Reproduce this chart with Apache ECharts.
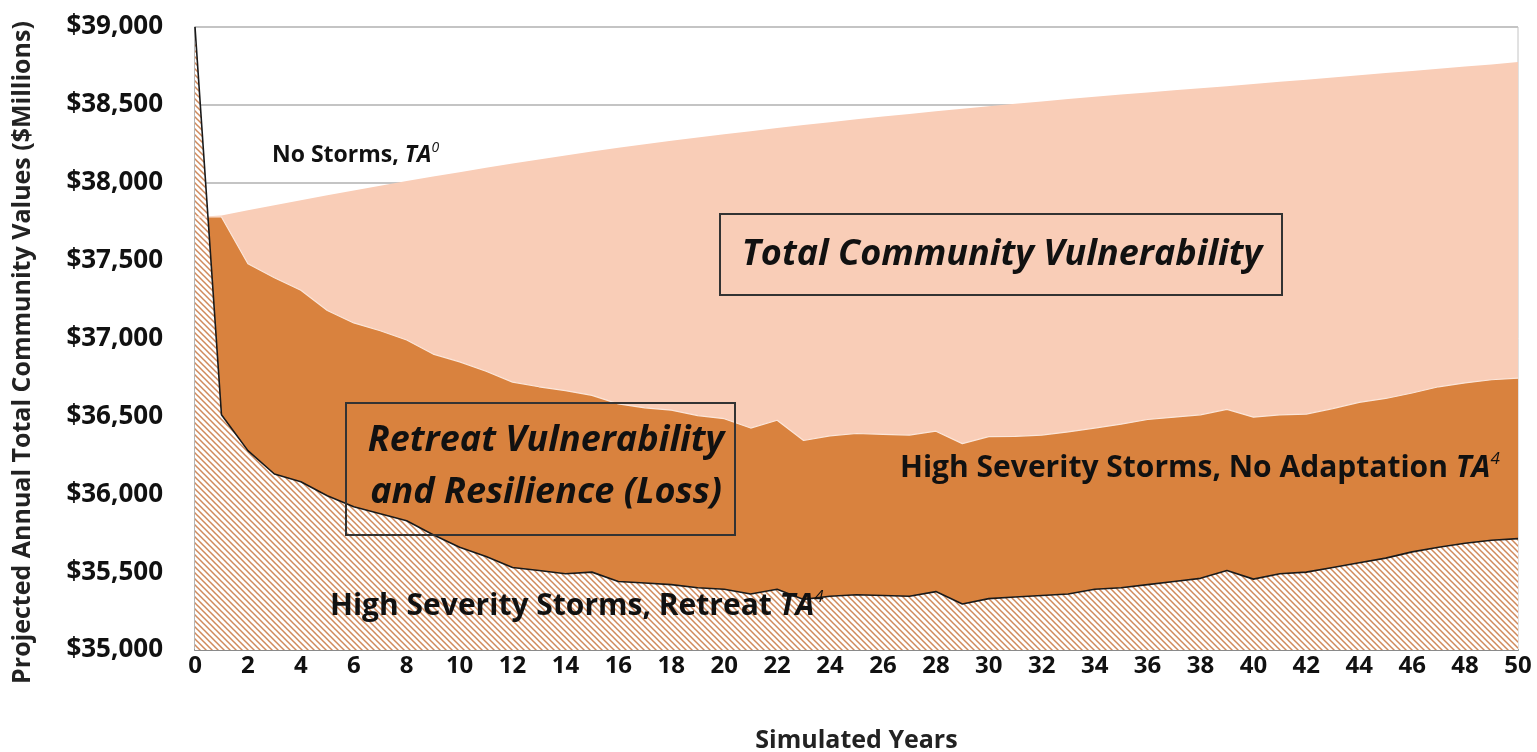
<!DOCTYPE html>
<html>
<head>
<meta charset="utf-8">
<script src="https://cdn.jsdelivr.net/npm/echarts@6/dist/echarts.min.js"></script>
<style>
  html, body { margin: 0; padding: 0; background: #fff; }
  #main { width: 1537px; height: 752px; }
</style>
</head>
<body>
<div id="main"></div>
<script>
// simulated years 0..50
var years = [];
for (var i = 0; i <= 50; i++) years.push(i);

// No Storms, TA0
var noStorms = [
  37780, 37790, 37823, 37856, 37888, 37920, 37951, 37981, 38011, 38040,
  38068, 38096, 38123, 38149, 38175, 38200, 38224, 38247, 38269, 38290,
  38311, 38331, 38351, 38370, 38389, 38407, 38425, 38442, 38459, 38475,
  38491, 38507, 38522, 38537, 38552, 38566, 38580, 38594, 38607, 38620,
  38634, 38648, 38662, 38676, 38690, 38704, 38718, 38732, 38746, 38760,
  38775
];
// High Severity Storms, No Adaptation TA4
var noAdaptation = [
  37780, 37780, 37480, 37390, 37310, 37180, 37100, 37050, 36990, 36900,
  36850, 36790, 36720, 36690, 36665, 36635, 36580, 36555, 36540, 36505,
  36485, 36425, 36475, 36345, 36375, 36390, 36385, 36380, 36405, 36325,
  36370, 36372, 36380, 36400, 36425, 36450, 36480, 36495, 36510, 36545,
  36495, 36510, 36515, 36550, 36590, 36615, 36650, 36690, 36715, 36735,
  36745
];
// High Severity Storms, Retreat TA4
var retreat = [
  39000, 36510, 36280, 36130, 36080, 35990, 35920, 35875, 35830, 35740,
  35660, 35600, 35530, 35510, 35490, 35500, 35440, 35430, 35420, 35400,
  35390, 35360, 35390, 35325, 35345, 35355, 35350, 35345, 35375, 35295,
  35330, 35340, 35350, 35360, 35390, 35400, 35420, 35440, 35460, 35510,
  35455, 35490, 35500, 35530, 35560, 35590, 35630, 35660, 35685, 35705,
  35715
];

function pairs(vals) {
  return vals.map(function (v, idx) { return [years[idx], v]; });
}

// diagonal hatch fill for the retreat area
function makeHatch() {
  var c = document.createElement('canvas');
  c.width = 6; c.height = 6;
  var g = c.getContext('2d');
  g.fillStyle = '#ffffff';
  g.fillRect(0, 0, 6, 6);
  g.strokeStyle = '#d08a5c';
  g.lineWidth = 1.5;
  g.beginPath();
  g.moveTo(-1, -1); g.lineTo(7, 7);
  g.moveTo(-1, 5); g.lineTo(1, 7);
  g.moveTo(5, -1); g.lineTo(7, 1);
  g.stroke();
  return c;
}

var FONT = 'Open Sans';
var myChart = echarts.init(document.getElementById('main'));

function supLabel(main, sup, size, supSize) {
  return {
    text: '{a|' + main + '}{b|TA}{c|' + sup + '}',
    verticalAlign: 'middle',
    rich: {
      a: { fontFamily: FONT, fontWeight: 'bold', fontSize: size, fill: '#111', lineHeight: size + 4 },
      b: { fontFamily: FONT, fontWeight: 'bold', fontStyle: 'italic', fontSize: size, fill: '#111', lineHeight: size + 4 },
      c: { fontFamily: FONT, fontStyle: 'italic', fontSize: supSize, fill: '#111', lineHeight: supSize, verticalAlign: 'top' }
    }
  };
}

var option = {
  backgroundColor: '#fff',
  animation: false,
  grid: {
    left: 195, right: 19, top: 27, bottom: 102,
    outerBoundsMode: 'none',
    show: true, borderColor: '#c4c4c4', borderWidth: 1
  },
  xAxis: {
    type: 'value',
    min: 0, max: 50, interval: 2,
    name: 'Simulated Years',
    nameLocation: 'middle',
    nameGap: 78,
    nameTextStyle: { fontFamily: FONT, fontWeight: 'bold', fontSize: 25, color: '#222' },
    axisLine: { show: true, onZero: false, lineStyle: { color: '#8a8a8a', width: 2 } },
    axisTick: { show: false },
    splitLine: { show: false },
    axisLabel: { fontFamily: FONT, fontWeight: 'bold', fontSize: 24, color: '#111', margin: 4 }
  },
  yAxis: {
    type: 'value',
    min: 35000, max: 39000, interval: 500,
    name: 'Projected Annual Total Community Values ($Millions)',
    nameLocation: 'middle',
    nameGap: 160,
    nameTextStyle: { fontFamily: FONT, fontWeight: 'bold', fontSize: 25, color: '#222', padding: [0, 28, 0, 0] },
    axisLine: { show: true, lineStyle: { color: '#a8a8a8', width: 1.5 } },
    axisTick: { show: false },
    splitLine: { show: true, lineStyle: { color: '#c4c4c4', width: 2 } },
    axisLabel: {
      fontFamily: FONT, fontWeight: 'bold', fontSize: 26, color: '#111', margin: 32,
      formatter: function (v) { return '$' + v.toLocaleString('en-US'); }
    }
  },
  series: [
    {
      name: 'No Storms, TA0',
      type: 'line',
      data: pairs(noStorms),
      showSymbol: false,
      lineStyle: { width: 0 },
      areaStyle: { color: '#f9cdb7', opacity: 1, origin: 'start' }
    },
    {
      name: 'High Severity Storms, No Adaptation TA4',
      type: 'line',
      data: pairs(noAdaptation),
      showSymbol: false,
      lineStyle: { width: 1.2, color: '#fbe6da' },
      areaStyle: { color: '#d9823e', opacity: 1, origin: 'start' }
    },
    {
      name: 'High Severity Storms, Retreat TA4',
      type: 'line',
      data: pairs(retreat),
      showSymbol: false,
      lineStyle: { width: 1.6, color: '#1a1a1a' },
      areaStyle: { color: { image: makeHatch(), repeat: 'repeat' }, opacity: 1, origin: 'start' }
    }
  ],
  graphic: [
    { type: 'text', x: 272, y: 155, z: 10, style: supLabel('No Storms, ', '0', 23, 14) },
    {
      type: 'rect', z: 10,
      shape: { x: 720, y: 214, width: 562, height: 81 },
      style: { fill: 'none', stroke: '#333', lineWidth: 2 }
    },
    {
      type: 'text', x: 1002, y: 255, z: 11,
      style: {
        text: 'Total Community Vulnerability',
        fontFamily: FONT, fontWeight: 'bold', fontStyle: 'italic', fontSize: 36, fill: '#111',
        align: 'center', verticalAlign: 'middle'
      }
    },
    {
      type: 'rect', z: 10,
      shape: { x: 346, y: 403, width: 389, height: 132 },
      style: { fill: 'none', stroke: '#333', lineWidth: 2 }
    },
    {
      type: 'text', x: 546, y: 467, z: 11,
      style: {
        text: 'Retreat Vulnerability\nand Resilience (Loss)',
        fontFamily: FONT, fontWeight: 'bold', fontStyle: 'italic', fontSize: 36, fill: '#111',
        lineHeight: 52, align: 'center', verticalAlign: 'middle'
      }
    },
    { type: 'text', x: 900, y: 468, z: 11, style: supLabel('High Severity Storms, No Adaptation ', '4', 30, 17) },
    { type: 'text', x: 330, y: 606, z: 11, style: supLabel('High Severity Storms, Retreat ', '4', 30, 17) }
  ]
};

myChart.setOption(option);
</script>
</body>
</html>
